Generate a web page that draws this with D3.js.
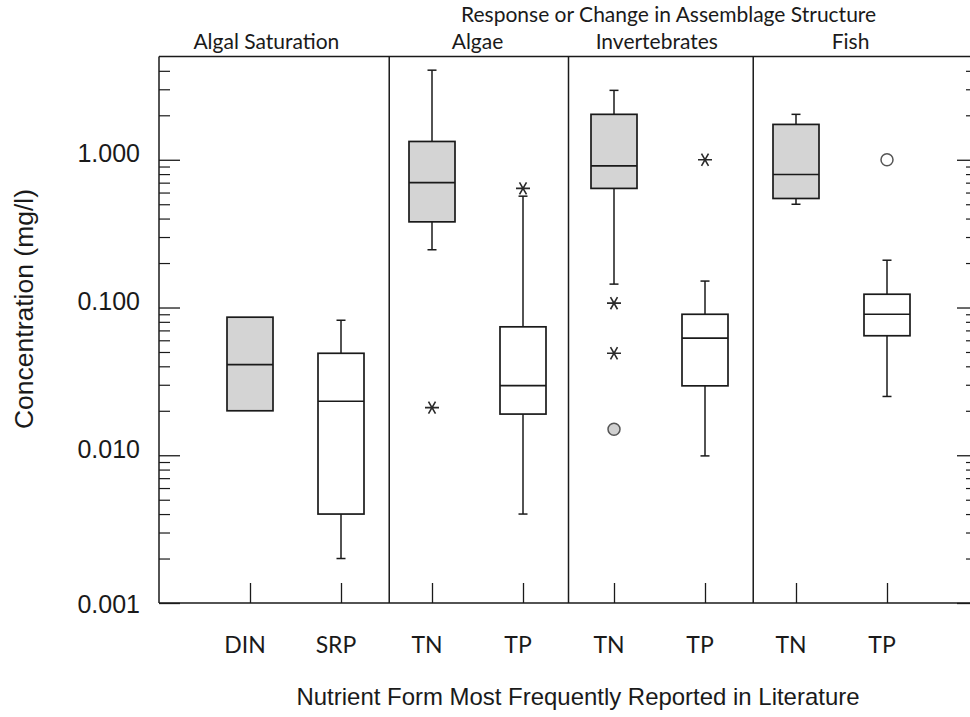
<!DOCTYPE html>
<html><head><meta charset="utf-8">
<script src="https://cdn.jsdelivr.net/npm/d3@7"></script>
<style>body{margin:0;background:#fff} svg{display:block}</style>
</head><body><svg id="c" width="970" height="717"></svg>
<script>
// ---- data ----
const categories = ["DIN","SRP","TN","TP","TN","TP","TN","TP"];
const groupLabels = ["Algal Saturation","Algae","Invertebrates","Fish"];
const groupTitle = "Response or Change in Assemblage Structure";
const q1 =          [0.020, 0.0040, 0.38, 0.019,  0.64,  0.0295, 0.547, 0.0644];
const medians =     [0.041, 0.0232, 0.70, 0.0296, 0.91,  0.062,  0.795, 0.090];
const q3 =          [0.086, 0.049,  1.33, 0.074,  2.03,  0.090,  1.735, 0.123];
const whiskerLow =  [null,  0.002,  0.246, 0.0040, 0.144, 0.0099, 0.50,  0.025];
const whiskerHigh = [null,  0.082,  4.04,  0.567,  2.95,  0.151,  2.03,  0.209];
const shaded =      [true, false, true, false, true, false, true, false];
const outlierIndex =  [2, 3, 4, 4, 4, 5, 7];
const outlierValue =  [0.021, 0.64, 0.107, 0.049, 0.015, 1.0, 1.0];
const outlierSymbol = ["star","star","star","star","filled","star","open"];
const yTickValues = [0.001, 0.01, 0.1, 1];
const yTickLabels = ["0.001","0.010","0.100","1.000"];
const yAxisTitle = "Concentration (mg/l)";
const xAxisTitle = "Nutrient Form Most Frequently Reported in Literature";

// ---- layout ----
const L = 159, R = 970, T = 56.5, B = 603;
const groupLabelPos = [0.18, 2.5, 4.47, 6.6];   // in category-index units
const groupTitlePos = 4.6;
const separatorPos = [1.53, 3.5, 5.53];

const svg = d3.select("#c");
const x = d3.scaleLinear().domain([0, categories.length - 1]).range([250, 887]);
const y = d3.scaleLog().domain([0.001, 5]).range([B, T]);
const ink = "#1a1a1a";

// frame
svg.append("line").attr("x1", L).attr("x2", R).attr("y1", T).attr("y2", T).attr("stroke", ink).attr("stroke-width", 1.5);
svg.append("line").attr("x1", L).attr("x2", R).attr("y1", B).attr("y2", B).attr("stroke", ink).attr("stroke-width", 1.5);
svg.append("line").attr("x1", L).attr("x2", L).attr("y1", T).attr("y2", B).attr("stroke", ink).attr("stroke-width", 1.5);

// separators
svg.selectAll(".sep").data(separatorPos).join("line")
  .attr("x1", d => x(d)).attr("x2", d => x(d)).attr("y1", T).attr("y2", B)
  .attr("stroke", ink).attr("stroke-width", 1.5);

// y ticks (left, inward) and (right, inward)
const minorVals = [];
[0.001, 0.01, 0.1, 1].forEach(dec => { for (let k = 2; k <= 9; k++) { const v = dec * k; if (v < 5) minorVals.push(v); } });
const gL = svg.append("g").attr("transform", `translate(${L},0)`).call(d3.axisRight(y).tickValues(yTickValues).tickSize(21).tickFormat(""));
gL.select(".domain").remove();
gL.selectAll("line").attr("stroke", ink).attr("stroke-width", 1.3);
const gLm = svg.append("g").attr("transform", `translate(${L},0)`).call(d3.axisRight(y).tickValues(minorVals).tickSize(11).tickFormat(""));
gLm.select(".domain").remove();
gLm.selectAll("line").attr("stroke", ink).attr("stroke-width", 1.2);

const gR = svg.append("g").attr("transform", `translate(${R},0)`).call(d3.axisLeft(y).tickValues(yTickValues).tickSize(13).tickFormat(""));
gR.select(".domain").remove();
gR.selectAll("line").attr("stroke", ink).attr("stroke-width", 1.3);
const gRm = svg.append("g").attr("transform", `translate(${R},0)`).call(d3.axisLeft(y).tickValues(minorVals).tickSize(4).tickFormat(""));
gRm.select(".domain").remove();
gRm.selectAll("line").attr("stroke", ink).attr("stroke-width", 1.2);

// y tick labels
svg.selectAll(".ylab").data(yTickValues).join("text")
  .attr("x", 140).attr("y", (d, i) => y(d) + (d === y.domain()[0] ? 10 : 2.5))
  .attr("text-anchor", "end").attr("font-family", "Liberation Sans, Arial, sans-serif")
  .attr("font-size", 25).attr("fill", ink).text((d, i) => yTickLabels[i]);

// y title
svg.append("text").attr("transform", "translate(33,309) rotate(-90)")
  .attr("text-anchor", "middle").attr("font-family", "Liberation Sans, Arial, sans-serif")
  .attr("font-size", 26.5).attr("fill", ink).text(yAxisTitle);

// x ticks (bottom, inward)
const gB = svg.append("g").attr("transform", `translate(0,${B})`)
  .call(d3.axisTop(x).tickValues(d3.range(categories.length)).tickSize(20).tickFormat(""));
gB.select(".domain").remove();
gB.selectAll("line").attr("stroke", ink).attr("stroke-width", 1.3);

// category labels
svg.selectAll(".xlab").data(categories).join("text")
  .attr("x", (d, i) => x(i) - 5).attr("y", 653)
  .attr("text-anchor", "middle").attr("font-family", "Lato, sans-serif")
  .attr("font-size", 23).attr("fill", ink).text(d => d);

// x title
svg.append("text").attr("x", 578).attr("y", 705).attr("text-anchor", "middle")
  .attr("font-family", "Liberation Sans, Arial, sans-serif").attr("font-size", 24)
  .attr("textLength", 563).attr("lengthAdjust", "spacingAndGlyphs")
  .attr("fill", ink).text(xAxisTitle);

// header
svg.append("text").attr("x", x(groupTitlePos)).attr("y", 22).attr("text-anchor", "middle")
  .attr("font-family", "Lato, sans-serif").attr("font-size", 21).attr("fill", ink).text(groupTitle);
svg.selectAll(".glab").data(groupLabels).join("text")
  .attr("x", (d, i) => x(groupLabelPos[i])).attr("y", 49).attr("text-anchor", "middle")
  .attr("font-family", "Lato, sans-serif").attr("font-size", 21).attr("fill", ink).text(d => d);

// boxes
const boxW = 46, capW = 9;
const idx = d3.range(categories.length);
const g = svg.append("g");
idx.forEach(i => {
  const cx = x(i);
  if (whiskerHigh[i] != null) {
    g.append("line").attr("x1", cx).attr("x2", cx).attr("y1", y(q3[i])).attr("y2", y(whiskerHigh[i])).attr("stroke", ink).attr("stroke-width", 1.5);
    g.append("line").attr("x1", cx - capW / 2).attr("x2", cx + capW / 2).attr("y1", y(whiskerHigh[i])).attr("y2", y(whiskerHigh[i])).attr("stroke", ink).attr("stroke-width", 1.5);
  }
  if (whiskerLow[i] != null) {
    g.append("line").attr("x1", cx).attr("x2", cx).attr("y1", y(q1[i])).attr("y2", y(whiskerLow[i])).attr("stroke", ink).attr("stroke-width", 1.5);
    g.append("line").attr("x1", cx - capW / 2).attr("x2", cx + capW / 2).attr("y1", y(whiskerLow[i])).attr("y2", y(whiskerLow[i])).attr("stroke", ink).attr("stroke-width", 1.5);
  }
  g.append("rect").attr("x", cx - boxW / 2).attr("width", boxW)
    .attr("y", y(q3[i])).attr("height", y(q1[i]) - y(q3[i]))
    .attr("fill", shaded[i] ? "#d4d4d4" : "#ffffff").attr("stroke", ink).attr("stroke-width", 1.7);
  g.append("line").attr("x1", cx - boxW / 2).attr("x2", cx + boxW / 2).attr("y1", y(medians[i])).attr("y2", y(medians[i])).attr("stroke", ink).attr("stroke-width", 1.7);
});

// outliers
outlierIndex.forEach((ci, k) => {
  const cx = x(ci), cy = y(outlierValue[k]);
  const s = outlierSymbol[k];
  if (s === "star") {
    const r = 7, a = Math.PI / 3;
    const p = `M${cx - r},${cy}L${cx + r},${cy}` +
      `M${cx - r * Math.cos(a)},${cy - r * Math.sin(a)}L${cx + r * Math.cos(a)},${cy + r * Math.sin(a)}` +
      `M${cx - r * Math.cos(a)},${cy + r * Math.sin(a)}L${cx + r * Math.cos(a)},${cy - r * Math.sin(a)}`;
    svg.append("path").attr("d", p).attr("stroke", "#2a2a2a").attr("stroke-width", 1.6).attr("fill", "none");
  } else {
    svg.append("circle").attr("cx", cx).attr("cy", cy).attr("r", 6)
      .attr("fill", s === "filled" ? "#d0d0d0" : "#ffffff").attr("stroke", "#555").attr("stroke-width", 1.5);
  }
});
</script></body></html>
